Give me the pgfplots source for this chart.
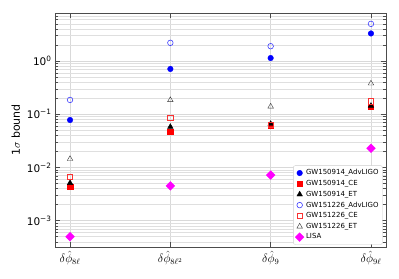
\documentclass[border=0pt]{standalone}
\usepackage{fontspec}
\setmainfont{DejaVu Sans}
\usepackage{pgfplots}
\pgfplotsset{compat=1.18}
\definecolor{mag}{RGB}{255,0,255}
\definecolor{pblue}{RGB}{0,0,255}
\definecolor{pred}{RGB}{255,0,0}
\definecolor{lblue}{RGB}{60,60,255}
\definecolor{lred}{RGB}{250,50,50}
\begin{document}
\begin{tikzpicture}
\begin{axis}[name=ax, scale only axis, width=331bp, height=234bp,
  ymode=log, xmin=-0.15, xmax=3.15, ymin=3.2e-4, ymax=8,
  xtick={0,1,2,3},
  xticklabels={$\delta\hat{\phi}_{8\ell}$, $\delta\hat{\phi}_{8\ell^2}$, $\delta\hat{\phi}_{9}$, $\delta\hat{\phi}_{9\ell}$},
  ytick={1e-4,1e-3,1e-2,1e-1,1,10},
  yticklabels={10\textsuperscript{−4},10\textsuperscript{−3},10\textsuperscript{−2},10\textsuperscript{−1},10\textsuperscript{0},10\textsuperscript{1}},
  tick align=inside, major tick length=5bp, minor tick length=3bp,
  every tick/.style={black!70},
  axis line style={black!70},
  grid=both, major grid style={gray!30, line width=0.6pt}, minor grid style={gray!25, line width=0.5pt},
  yticklabel style={font=\fontsize{10.5}{12}\selectfont},
  xticklabel style={font=\fontsize{11.5}{13}\selectfont, yshift=-1bp},
  ylabel={1$\sigma$ bound}, ylabel style={font=\fontsize{11}{13}\selectfont},
  legend style={at={(0.99,0.01)}, anchor=south east, font=\fontsize{7}{8.4}\selectfont, draw=gray!40, rounded corners=2pt, row sep=0pt, inner sep=2pt},
  legend cell align=left,
]
\addplot[only marks, mark=*, mark size=2.8bp, pblue] coordinates {(0,0.078) (1,0.71) (2,1.14) (3,3.3)};
\addlegendentry{GW150914\_AdvLIGO}
\addplot[only marks, mark=square*, mark size=2.7bp, pred] coordinates {(0,0.0044) (1,0.047) (2,0.061) (3,0.137)};
\addlegendentry{GW150914\_CE}
\addplot[only marks, mark=triangle*, mark size=3.2bp, black] coordinates {(0,0.0051) (1,0.058) (2,0.066) (3,0.144)};
\addlegendentry{GW150914\_ET}
\addplot[only marks, mark=o, mark size=2.8bp, draw=lblue, mark options={draw=lblue, fill=none, line width=0.6pt}] coordinates {(0,0.186) (1,2.2) (2,1.9) (3,5.0)};
\addlegendentry{GW151226\_AdvLIGO}
\addplot[only marks, mark=square, mark size=2.7bp, draw=lred, mark options={draw=lred, fill=none, line width=0.6pt}] coordinates {(0,0.0066) (1,0.086) (2,0.064) (3,0.175)};
\addlegendentry{GW151226\_CE}
\addplot[only marks, mark=triangle, mark size=3.2bp, draw=black!80, mark options={draw=black!80, fill=none}] coordinates {(0,0.0145) (1,0.185) (2,0.14) (3,0.38)};
\addlegendentry{GW151226\_ET}
\addplot[only marks, mark=square*, mark size=3.1bp, mag, mark options={rotate=45}] coordinates {(0,0.0005) (1,0.0045) (2,0.0072) (3,0.023)};
\addlegendentry{LISA}
\end{axis}
\path ([shift={(-55bp,-32bp)}]ax.south west) ([shift={(13bp,13bp)}]ax.north east);
\end{tikzpicture}
\end{document}
